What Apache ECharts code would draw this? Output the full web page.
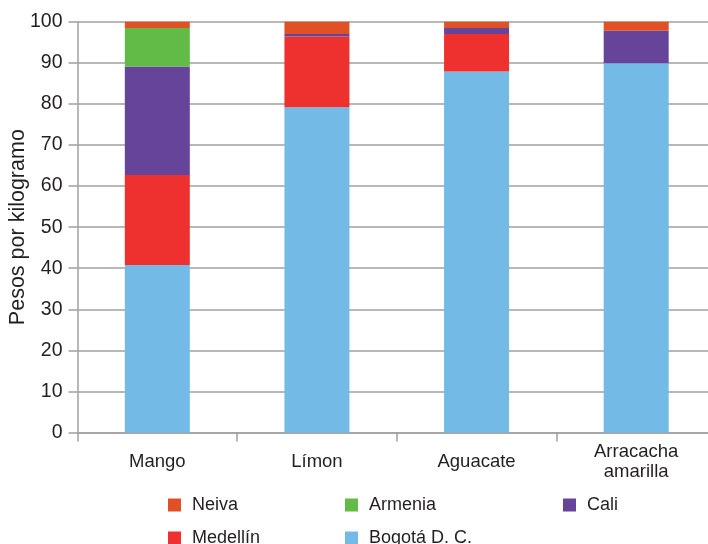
<!DOCTYPE html>
<html>
<head>
<meta charset="utf-8">
<script src="https://cdn.jsdelivr.net/npm/echarts@6/dist/echarts.min.js"></script>
<style>
  html, body { margin: 0; padding: 0; background: #fff; }
  #chart { width: 708px; height: 544px; }
</style>
</head>
<body>
<div id="chart"></div>
<script>
const categories = ['Mango', 'Límon', 'Aguacate', 'Arracacha\namarilla'];
const bogota   = [40.8, 79.2, 87.9, 89.9];
const medellin = [21.9, 17.2, 9.1, 0];
const cali     = [26.4, 0.6, 1.5, 7.9];
const armenia  = [9.4, 0, 0, 0];
const neiva    = [1.5, 3.0, 1.5, 2.2];
const yTicks = { min: 0, max: 100, interval: 10 };

const FONT = '"Liberation Sans", Arial, sans-serif';
const TXT = '#231f20';
const AX = '#a0a0a0';

function bar(name, data, color) {
  return {
    name: name, type: 'bar', stack: 'total', data: data, barWidth: 65,
    itemStyle: { color: color }, emphasis: { disabled: true }
  };
}

const legendBase = {
  orient: 'vertical', icon: 'rect', itemWidth: 13, itemHeight: 13,
  itemGap: 15, padding: 0, top: 496, height: 80, selectedMode: false,
  textStyle: { fontFamily: FONT, fontSize: 18, color: TXT, lineHeight: 18, padding: [0, 0, 0, 6] }
};

const chart = echarts.init(document.getElementById('chart'), null, { renderer: 'canvas' });
chart.setOption({
  animation: false,
  backgroundColor: '#fff',
  grid: { left: 77.5, right: -8, top: 21.8, bottom: 111.5, containLabel: false, outerBoundsMode: 'none' },
  legend: [
    Object.assign({}, legendBase, { left: 168, data: ['Neiva', 'Medellín'] }),
    Object.assign({}, legendBase, { left: 345, data: ['Armenia', 'Bogotá D. C.'] }),
    Object.assign({}, legendBase, { left: 563, data: ['Cali'] })
  ],
  xAxis: {
    type: 'category', data: categories, boundaryGap: true,
    axisLine: { lineStyle: { color: AX, width: 1.5 } },
    axisTick: { show: true, length: 9, lineStyle: { color: AX, width: 1.5 } },
    axisLabel: {
      fontFamily: FONT, fontSize: 18.5, color: TXT, margin: 29,
      verticalAlign: 'middle', lineHeight: 20, interval: 0
    }
  },
  yAxis: {
    type: 'value', min: yTicks.min, max: yTicks.max, interval: yTicks.interval,
    name: 'Pesos por kilogramo', nameLocation: 'middle', nameGap: 48, nameMoveOverlap: false,
    nameTextStyle: { fontFamily: FONT, fontSize: 21.5, color: TXT },
    axisLine: { show: true, lineStyle: { color: AX, width: 1.5 } },
    axisTick: { show: true, length: 9, lineStyle: { color: AX, width: 1.5 } },
    axisLabel: { fontFamily: FONT, fontSize: 19.5, color: TXT, margin: 15 },
    splitLine: { show: true, lineStyle: { color: AX, width: 1.5 } }
  },
  series: [
    bar('Bogotá D. C.', bogota, '#73bae6'),
    bar('Medellín', medellin, '#ee302e'),
    bar('Cali', cali, '#65449a'),
    bar('Armenia', armenia, '#62ba47'),
    bar('Neiva', neiva, '#e05225')
  ]
});
</script>
</body>
</html>
